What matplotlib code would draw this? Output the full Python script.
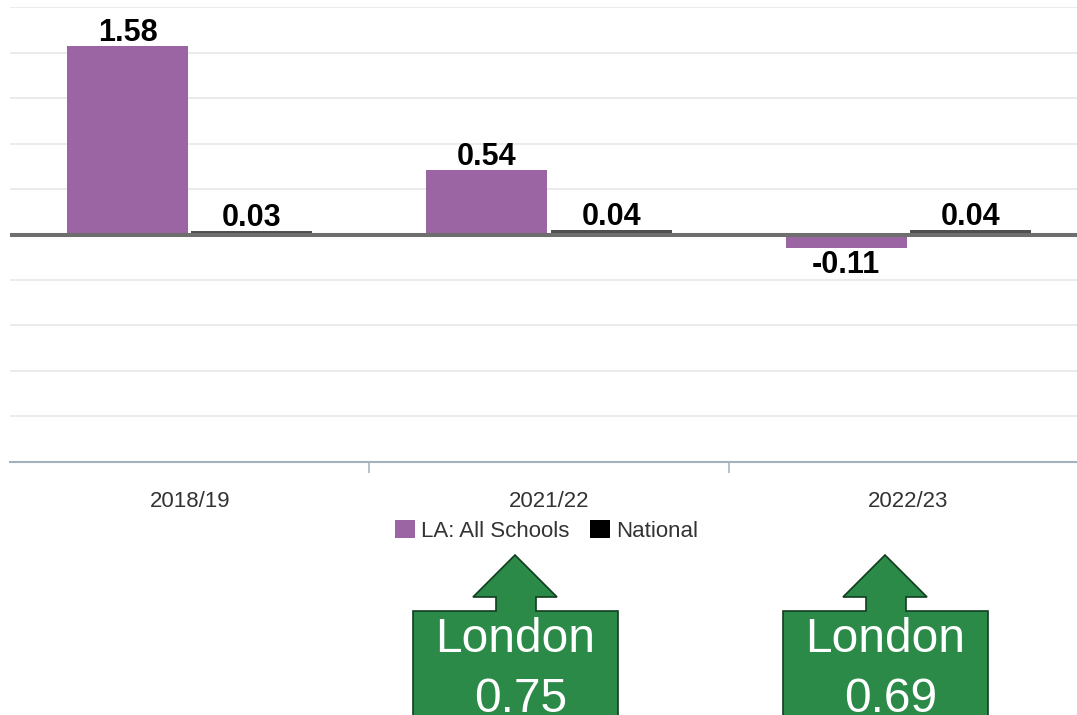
#Progress scores: LA vs National

import numpy as np
import matplotlib.pyplot as plt
from matplotlib.patches import Patch, Polygon
from matplotlib.ticker import MultipleLocator

years = ['2018/19', '2021/22', '2022/23']
la_all_schools = [1.58, 0.54, -0.11]
national = [0.03, 0.04, 0.04]
london_years = ['2021/22', '2022/23']
london = [0.75, 0.69]

plt.rcParams['font.family'] = ['Liberation Sans', 'DejaVu Sans']

W, H = 1077, 715
fig = plt.figure(figsize=(W / 100, H / 100), dpi=100)
ax = fig.add_axes([10 / W, 1 - 461.7 / H, 1078 / W, 454.4 / H])

x = np.arange(len(years))
width = 0.337
ax.bar(x - 0.173, la_all_schools, width, color='#9b64a2', zorder=2)
ax.bar(x + 0.173, national, width, color='#505050', zorder=2)
ax.axhline(0, color='#6e6e6e', lw=2.9, zorder=3)

ax.set_xlim(-0.5, 2.5)
ax.set_ylim(-1.9, 1.9)
ax.yaxis.set_major_locator(MultipleLocator(0.38))
ax.yaxis.grid(True, color='#e6e6e6', lw=1.1)
ax.set_axisbelow(True)
ax.tick_params(axis='y', left=False, labelleft=False)
for s in ['top', 'left', 'right']:
    ax.spines[s].set_visible(False)
ax.spines['bottom'].set_color('#a3b1bf')
ax.spines['bottom'].set_linewidth(1.5)
ax.spines['bottom'].set_zorder(4)

ax.set_xticks(x, years)
ax.tick_params(axis='x', length=0, pad=21, labelsize=16, labelcolor='#333333')
ax.set_xticks([0.5, 1.5], minor=True)
ax.tick_params(axis='x', which='minor', length=8, width=1.1, color='#a3b1bf')

# value labels
for off, vals in [(-0.173, la_all_schools), (0.173, national)]:
    for xi, v in zip(x, vals):
        ax.annotate('{:.2f}'.format(v), (xi + off, v),
                    xytext=(0, 3.6 if v >= 0 else -1.5), textcoords='offset points',
                    ha='center', va='baseline' if v >= 0 else 'top',
                    fontsize=22, fontweight='bold',
                    family=['Liberation Sans Narrow', 'Liberation Sans'], zorder=5)

handles = [Patch(facecolor='#9b64a2'), Patch(facecolor='black')]
ax.legend(handles, ['LA: All Schools', 'National'], loc='center',
          bbox_to_anchor=(0.4977, -0.1525), ncol=2, frameon=False, fontsize=16,
          handlelength=0.9, handleheight=0.9, handletextpad=0.3,
          columnspacing=0.9, labelcolor='#333333')

# green "London" arrow boxes (pixel positions, from top-left)
def arrow_box(tip, left, right, text_x, value):
    pts = [(tip, 555), (tip + 42, 597), (tip + 21, 597), (tip + 21, 611),
           (right, 611), (right, 740), (left, 740), (left, 611),
           (tip - 19, 611), (tip - 19, 597), (tip - 42, 597)]
    fig.add_artist(Polygon([(px / W, 1 - py / H) for px, py in pts], closed=True,
                           transform=fig.transFigure, facecolor='#2b8a48',
                           edgecolor='#123d20', lw=1.2))
    fig.text((left + right) / 2 / W, 1 - 652 / H, 'London', ha='center',
             va='baseline', fontsize=34.5, color='white')
    fig.text(text_x / W, 1 - 712 / H, '{:.2f}'.format(value), ha='center',
             va='baseline', fontsize=34.5, color='white')

arrow_box(515, 413, 618, 521, london[0])
arrow_box(885, 783, 988, 891, london[1])

plt.savefig('out.png', dpi=100)
